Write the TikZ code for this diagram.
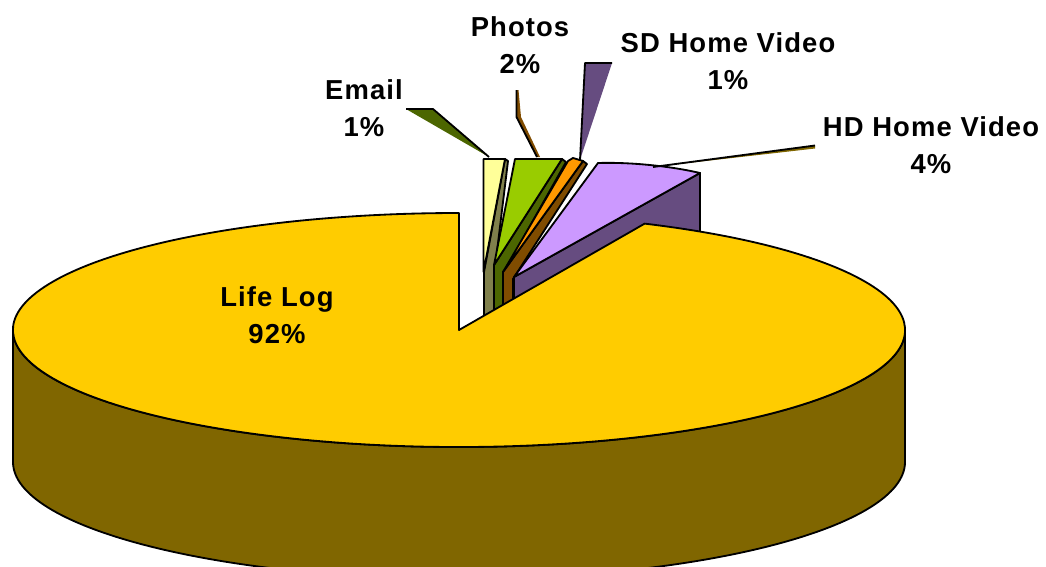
\documentclass[tikz,border=0pt]{standalone}
\usepackage{fontspec}
\setmainfont{Liberation Sans}[LetterSpace=4]
\usetikzlibrary{positioning}
\definecolor{lifelog}{HTML}{FFCC00}
\definecolor{lifelogside}{HTML}{806600}
\definecolor{email}{HTML}{FFFF99}
\definecolor{emailside}{HTML}{80804C}
\definecolor{photos}{HTML}{99CC00}
\definecolor{photosside}{HTML}{4C6600}
\definecolor{sdvideo}{HTML}{FF9900}
\definecolor{sdvideoside}{HTML}{804C00}
\definecolor{hdvideo}{HTML}{CC99FF}
\definecolor{hdvideoside}{HTML}{664C80}

\begin{document}
\begin{tikzpicture}[x=0.025cm, y=-0.025cm, line width=1.3pt, line join=round,
    every node/.style={font=\bfseries\fontsize{19.5}{26}\selectfont, align=center}]
  \useasboundingbox (0,0) rectangle (1046,566);
  \clip (0,0) rectangle (1046,566);

  % email
  \filldraw[fill=emailside] (484,272) -- (505,159) -- (508,161) -- (494,276) -- (494,340) -- (484,340) -- cycle;
  \filldraw[fill=email]     (483.5,159) -- (505,159) -- (483.5,272) -- cycle;

  % photos
  \filldraw[fill=photosside] (494,265) -- (562,159) -- (566,162) -- (503,274) -- (503,340) -- (494,340) -- cycle;
  \filldraw[fill=photos]     (494,265) -- (515,159) -- (562,159) -- cycle;

  % sd home video
  \filldraw[fill=sdvideoside] (503,272) -- (583,161) -- (587,164) -- (513,279) -- (513,340) -- (503,340) -- cycle;
  \filldraw[fill=sdvideo]     (503,272) -- (568,161) -- (573,158) -- (583,161) -- cycle;

  % hd home video
  \filldraw[fill=hdvideoside] (514,277) -- (700,173) -- (700,270) -- (514,380) -- cycle;
  \filldraw[fill=hdvideo]     (514,277) -- (598,163) .. controls (630,162) and (670,166) .. (700,173) -- cycle;

  % life log
  \filldraw[fill=lifelogside] (905,330) arc[start angle=0, end angle=180, x radius=446, y radius=117]
    -- ++(0,132) arc[start angle=180, end angle=0, x radius=446, y radius=117] -- cycle;
  \filldraw[fill=lifelog] (459,330) -- ++(-65.4:446 and 117)
    arc[start angle=-65.4, end angle=270, x radius=446, y radius=117] -- cycle;

  % leaders
  \fill[photosside] (406,109) -- (433,109) -- (489,157) -- cycle;
  \draw (406,109) -- (433,109) -- (489,157);
  \fill[sdvideoside] (516.5,90) -- (518.5,90) -- (521,117) -- (540,157) -- (537,157) -- (516.5,117) -- cycle;
  \draw (516.5,90) -- (516.5,117) -- (537,157);
  \fill[hdvideoside] (585,63) -- (612,63) -- (580,160) -- cycle;
  \draw (612,63) -- (585,63) -- (580,160);
  \fill[lifelogside] (653,167) -- (815,145.5) -- (815,148.5) -- cycle;
  \draw (653,167) -- (815,145.5);

  % labels
  \node (lifelog) at (277,315) {Life Log\\92\%};
  \node (email)   at (364,108) {Email\\1\%};
  \node (photos)  at (520,45)  {Photos\\2\%};
  \node (sdvideo) at (728,61)  {SD Home Video\\1\%};
  \node (hdvideo) at (931,145) {HD Home Video\\4\%};
\end{tikzpicture}
\end{document}
